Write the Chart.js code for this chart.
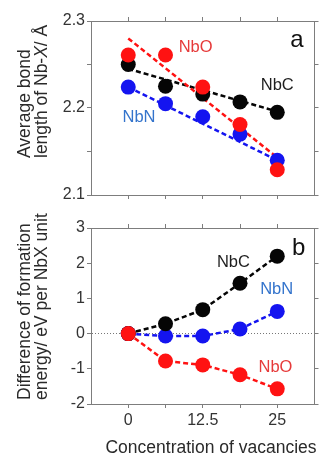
<!DOCTYPE html>
<html>
<head>
<meta charset="utf-8">
<script src="https://cdn.jsdelivr.net/npm/chart.js@4/dist/chart.umd.min.js"></script>
<style>
  html, body { margin: 0; padding: 0; background: #fff; }
  canvas { position: absolute; left: 0; }
</style>
</head>
<body>
<canvas id="bondChart" width="322" height="212" style="top:0"></canvas>
<canvas id="energyChart" width="322" height="245" style="top:212px"></canvas>
<script>
// concentration of vacancies (x)
const vacancies = [0, 6.25, 12.5, 18.75, 25]
const xTickValues = [0, 6.25, 12.5, 18.75, 25]
const xTickLabels = ['0', '', '12.5', '', '25']

// panel a: average bond length Nb-X (Å)
const bondNbC = [2.250, 2.225, 2.216, 2.207, 2.195]
const bondNbN = [2.224, 2.205, 2.190, 2.170, 2.140]
const bondNbO = [2.261, 2.261, 2.224, 2.181, 2.129]
// dashed trend lines, read at x = 0 and x = 25
const fitX = [0, 25]
const fitNbC = [2.245, 2.196]
const fitNbN = [2.224, 2.140]
const fitNbO = [2.280, 2.143]
const bondTicks = [2.1, 2.15, 2.2, 2.25, 2.3]
const bondTickLabels = ['2.1', '', '2.2', '', '2.3']

// panel b: difference of formation energy (eV per NbX unit)
const energyNbC = [0, 0.28, 0.68, 1.43, 2.2]
const energyNbN = [0, -0.07, -0.07, 0.13, 0.63]
const energyNbO = [0, -0.78, -0.89, -1.17, -1.57]
const energyTicks = [-2, -1, 0, 1, 2, 3]
const energyTickLabels = ['-2', '-1', '0', '1', '2', '3']

const FONT = "'Liberation Sans', Arial, sans-serif"
const GRAY = '#7d7d7d'
const RED = '#ff1212'
const BLUE = '#1414f0'
const BLACK = '#050505'

const pts = (xs, ys) => xs.map((x, i) => ({ x, y: ys[i] }))

// draws the curve labels, panel letter and axis titles
const textPlugin = {
  id: 'panelText',
  afterDatasetsDraw(chart, args, opts) {
    const ctx = chart.ctx
    const { x, y } = chart.scales
    ctx.save()
    ctx.textAlign = 'center'
    ctx.textBaseline = 'middle'
    for (const n of opts.notes) {
      ctx.font = n.size + 'px ' + FONT
      ctx.fillStyle = n.color
      ctx.fillText(n.text, x.getPixelForValue(n.at[0]), y.getPixelForValue(n.at[1]))
    }
    // rotated y title, lines start at the same place
    ctx.fillStyle = '#2a2a2a'
    ctx.textAlign = 'left'
    opts.yTitle.lines.forEach((line, li) => {
      ctx.save()
      ctx.translate(opts.yTitle.x[li], opts.yTitle.start)
      ctx.rotate(-Math.PI / 2)
      let cx = 0
      for (const [txt, italic] of line) {
        ctx.font = (italic ? 'italic ' : '') + '17.5px ' + FONT
        ctx.fillText(txt, cx, 0)
        cx += ctx.measureText(txt).width
      }
      ctx.restore()
    })
    if (opts.xTitle) {
      ctx.textAlign = 'center'
      ctx.font = '17.5px ' + FONT
      ctx.fillText(opts.xTitle.text, opts.xTitle.x, opts.xTitle.y)
    }
    ctx.restore()
  }
}

function fixedSize(size) {
  return s => { if (s.isHorizontal()) s.height = size; else s.width = size }
}

function xAxis(position, showLabels, size) {
  return {
    type: 'linear', position, min: -6.25, max: 31.25,
    afterBuildTicks: s => { s.ticks = xTickValues.map(v => ({ value: v })) },
    afterFit: fixedSize(size),
    grid: { drawOnChartArea: false, tickLength: 4, tickColor: GRAY },
    border: { color: GRAY },
    ticks: {
      display: showLabels, padding: 3, color: '#333', maxRotation: 0, autoSkip: false,
      font: { family: FONT, size: 16 },
      callback: (v, i) => xTickLabels[i]
    }
  }
}

function yAxis(position, min, max, tickVals, tickLabels, size, showLabels) {
  return {
    type: 'linear', position, min, max,
    afterBuildTicks: s => { s.ticks = tickVals.map(v => ({ value: v })) },
    afterFit: fixedSize(size),
    grid: { drawOnChartArea: false, tickLength: 4, tickColor: GRAY },
    border: { color: GRAY },
    ticks: {
      display: showLabels, padding: 2, color: '#333', autoSkip: false,
      font: { family: FONT, size: 16 },
      callback: (v, i) => tickLabels[i]
    }
  }
}

function dots(values, color) {
  return {
    data: pts(vacancies, values), showLine: false,
    pointRadius: 7.5, pointHoverRadius: 7.5,
    pointBackgroundColor: color, pointBorderColor: color, pointBorderWidth: 0
  }
}

function dashed(xs, values, color) {
  return {
    data: pts(xs, values), borderColor: color, borderWidth: 2.5,
    borderDash: [5, 3], pointRadius: 0, fill: false, tension: 0
  }
}

new Chart(document.getElementById('bondChart'), {
  type: 'line',
  data: {
    datasets: [
      dots(bondNbO, RED),
      dots(bondNbC, BLACK),
      dots(bondNbN, BLUE),
      dashed(fitX, fitNbO, RED),
      dashed(fitX, fitNbC, BLACK),
      dashed(fitX, fitNbN, BLUE)
    ]
  },
  options: {
    responsive: false, animation: false,
    layout: { padding: 0 },
    scales: {
      x: xAxis('bottom', false, 17),
      xTop: xAxis('top', false, 21),
      y: yAxis('left', 2.1, 2.3, bondTicks, bondTickLabels, 91, true),
      yRight: yAxis('right', 2.1, 2.3, bondTicks, bondTickLabels, 2, false)
    },
    plugins: {
      legend: { display: false },
      tooltip: { enabled: false },
      panelText: {
        notes: [
          { text: 'NbO', at: [11.3, 2.270], color: '#e63b3b', size: 16.5 },
          { text: 'NbC', at: [25.0, 2.226], color: '#1e1e1e', size: 16.5 },
          { text: 'NbN', at: [1.8, 2.189], color: '#3474cc', size: 16.5 },
          { text: 'a', at: [28.3, 2.278], color: '#111', size: 24 }
        ],
        yTitle: {
          x: [25, 42], start: 158,
          lines: [[['Average bond']], [['length of Nb-'], ['X', true], ['/ Å']]]
        }
      }
    }
  },
  plugins: [textPlugin]
})

const energyY = yAxis('left', -2, 3, energyTicks, energyTickLabels, 91, true)
energyY.grid = {
  drawOnChartArea: true, tickLength: 4, tickColor: GRAY, lineWidth: 1,
  color: c => (c.tick && c.tick.value === 0 ? '#777' : 'rgba(0,0,0,0)')
}
energyY.border = { color: GRAY, dash: [1, 2] }

new Chart(document.getElementById('energyChart'), {
  type: 'line',
  data: {
    datasets: [
      Object.assign(dashed(vacancies, energyNbO, RED), dots(energyNbO, RED), { showLine: true }),
      Object.assign(dashed(vacancies, energyNbC, BLACK), dots(energyNbC, BLACK), { showLine: true }),
      Object.assign(dashed(vacancies, energyNbN, BLUE), dots(energyNbN, BLUE), { showLine: true })
    ]
  },
  options: {
    responsive: false, animation: false,
    layout: { padding: 0 },
    scales: {
      x: xAxis('bottom', true, 53),
      xTop: xAxis('top', false, 16),
      y: energyY,
      yRight: yAxis('right', -2, 3, energyTicks, energyTickLabels, 2, false)
    },
    plugins: {
      legend: { display: false },
      tooltip: { enabled: false },
      panelText: {
        notes: [
          { text: 'NbC', at: [17.65, 2.03], color: '#1e1e1e', size: 16.5 },
          { text: 'NbN', at: [24.9, 1.24], color: '#3474cc', size: 16.5 },
          { text: 'NbO', at: [24.7, -0.95], color: '#e63b3b', size: 16.5 },
          { text: 'b', at: [28.6, 2.43], color: '#111', size: 24 }
        ],
        yTitle: {
          x: [25, 42], start: 188,
          lines: [[['Difference of formation']], [['energy/ eV per NbX unit']]]
        },
        xTitle: { text: 'Concentration of vacancies', x: 211, y: 236 }
      }
    }
  },
  plugins: [textPlugin]
})
</script>
</body>
</html>
